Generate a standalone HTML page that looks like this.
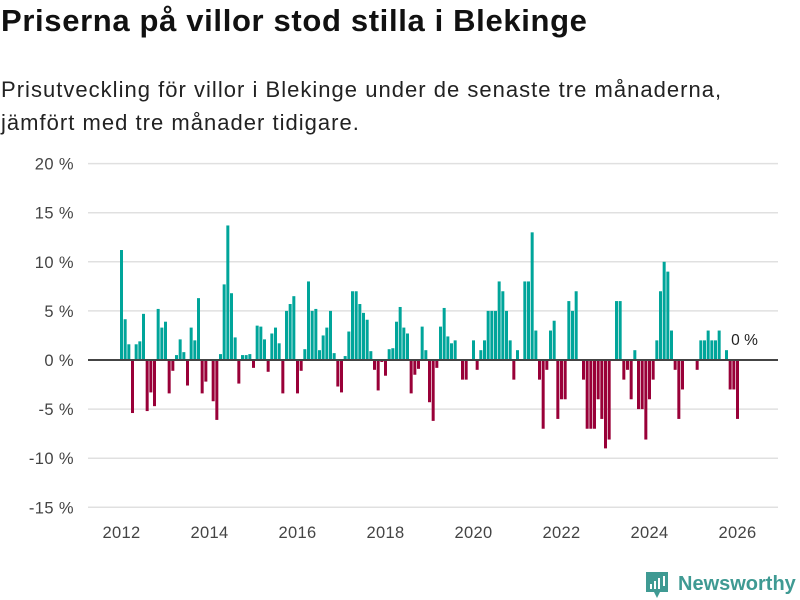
<!DOCTYPE html>
<html><head><meta charset="utf-8"><style>
body{margin:0;background:#fff;font-family:"Liberation Sans",sans-serif;}
#wrap{position:relative;width:800px;height:600px;overflow:hidden;}
h1{position:absolute;left:1px;top:3px;margin:0;font-size:31px;font-weight:bold;color:#111;letter-spacing:0.65px}
.sub{position:absolute;left:1px;top:73px;margin:0;font-size:22px;line-height:33px;color:#222;letter-spacing:1.02px}
svg{position:absolute;left:0;top:0}
</style></head><body><div id="wrap">
<h1>Priserna på villor stod stilla i Blekinge</h1>
<p class="sub">Prisutveckling för villor i Blekinge under de senaste tre månaderna,<br>jämfört med tre månader tidigare.</p>
<svg id="chart" width="800" height="600"></svg>
</div>
<script>
const values=[11.2,4.15,1.6,-5.4,1.6,1.9,4.7,-5.2,-3.3,-4.7,
5.2,3.3,3.9,-3.4,-1.1,0.5,2.1,0.8,-2.6,3.3,
2.0,6.3,-3.4,-2.2,0,-4.2,-6.1,0.6,7.7,13.7,
6.8,2.3,-2.4,0.5,0.5,0.6,-0.8,3.5,3.4,2.1,
-1.2,2.7,3.3,1.7,-3.4,5.0,5.7,6.5,-3.4,-1.1,
1.1,8.0,5.0,5.2,1.0,2.5,3.3,5.0,0.7,-2.7,
-3.3,0.4,2.9,7.0,7.0,5.7,4.8,4.1,0.9,-1.0,
-3.1,-0.2,-1.6,1.1,1.2,3.9,5.4,3.3,2.7,-3.4,
-1.5,-0.9,3.4,1.0,-4.3,-6.2,-0.8,3.4,5.3,2.4,
1.7,2.0,0,-2.0,-2.0,0,2.0,-1.0,1.0,2.0,
5,5,5,8,7,5,2,-2,1,0,
8,8,13,3,-2,-7,-1,3,4,-6,
-4,-4,6,5,7,0,-2,-7,-7,-7,
-4,-6,-9,-8.1,0,6,6,-2,-1,-4,
1,-5,-5,-8.1,-4,-2,2,7,10,9,
3,-1,-6,-3,0,0,0,-1,2,2,
3,2,2,3,0,1,-3,-3,-6,0];
const startYear=2012;
const yTicks=[20,15,10,5,0,-5,-10,-15];
const xTicks=[2012,2014,2016,2018,2020,2022,2024,2026];
const lastLabel="0 %";
const NS="http://www.w3.org/2000/svg";
const svg=document.getElementById('chart');
function y(v){return 360-v*9.82;}
function x(yearFrac){return 121.5+(yearFrac-startYear)*44;}
function mk(t,a){const e=document.createElementNS(NS,t);for(const k in a)e.setAttribute(k,a[k]);svg.appendChild(e);return e;}
yTicks.forEach(t=>{
 if(t!==0){const l=mk('line',{x1:88,x2:778,y1:y(t),y2:y(t),stroke:'#e0e0e0','stroke-width':1.5});
 
 }
 const tx=mk('text',{x:74,y:y(t)+6,'text-anchor':'end','font-size':16.5,fill:'#444','letter-spacing':0.4,'font-family':'Liberation Sans,sans-serif'});
 tx.textContent=t+' %';
 
 
});
xTicks.forEach(t=>{
 const tx=mk('text',{x:x(t),y:538,'text-anchor':'middle','font-size':16.5,fill:'#444','letter-spacing':0.3,'font-family':'Liberation Sans,sans-serif'});
 tx.textContent=t;
 
 
});
values.forEach((v,i)=>{
 if(v===0)return;
 const cx=x(startYear+i/12);
 const r=mk('rect',{x:cx-1.5,width:3,y:Math.min(y(v),y(0)),height:Math.abs(y(v)-y(0)),fill:v>0?'#00a59a':'#990038'});
 
 
});
const z=mk('line',{x1:88,x2:778,y1:y(0),y2:y(0),stroke:'#444','stroke-width':2});


const ll=mk('text',{x:x(startYear+(values.length-1)/12)-10,y:y(0)-15,'font-size':15.5,fill:'#222','font-family':'Liberation Sans,sans-serif'});
ll.textContent=lastLabel;


// logo
const g=mk('g',{});


const ic=document.createElementNS(NS,'path');
ic.setAttribute('d','M646 572 h22 v20 h-8 l-3 6 l-3 -6 h-8 z');ic.setAttribute('fill','#3f9a93');g.appendChild(ic);
[[650,584,2,5],[654,581,2,8],[658,578,2,11],[663,576,2,10]].forEach(b=>{const r=document.createElementNS(NS,'rect');r.setAttribute('x',b[0]);r.setAttribute('y',b[1]);r.setAttribute('width',b[2]);r.setAttribute('height',b[3]);r.setAttribute('fill','#fff');g.appendChild(r);});
const lt=document.createElementNS(NS,'text');
lt.setAttribute('x',678);lt.setAttribute('y',590);lt.setAttribute('font-size',20);lt.setAttribute('font-weight','bold');lt.setAttribute('fill','#3f9a93');lt.setAttribute('font-family','Liberation Sans,sans-serif');
lt.textContent='Newsworthy';g.appendChild(lt);
</script></body></html>
